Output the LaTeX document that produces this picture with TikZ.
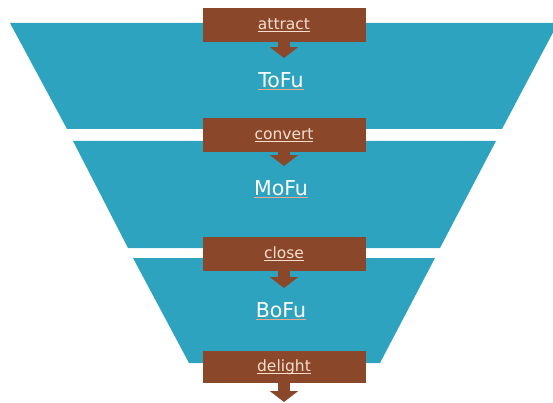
\documentclass[tikz,border=0pt]{standalone}
\usepackage{fontspec}
\setmainfont{DejaVu Sans}
\usetikzlibrary{arrows.meta}

\definecolor{funnel}{RGB}{45,163,192}
\definecolor{stage}{RGB}{139,71,42}
\definecolor{stagetext}{RGB}{250,222,205}
\definecolor{linkline}{RGB}{236,168,140}

\newsavebox\lnkbox
\newcommand\lnk[3][0.9pt]{\sbox\lnkbox{#3}\rlap{\color{#2}\rule[-2.6pt]{\wd\lnkbox}{#1}}\usebox\lnkbox}

\tikzset{
    band/.style={fill=funnel, draw=none},
    stagebox/.style={fill=stage, text=stagetext, minimum width=163pt, minimum height=34pt,
        inner sep=0pt, font=\fontsize{15.5}{15.5}\selectfont},
    level/.style={text=white, inner sep=2pt, font=\fontsize{20.5}{20.5}\selectfont},
    flow/.style={draw=stage, line width=12pt, -{Triangle[width=28pt,length=11pt]}},
}

\begin{document}
\begin{tikzpicture}[x=1pt, y=-1pt]
        \useasboundingbox (0,0) rectangle (553,403);
        \fill[band] (10,23) -- (558,23) -- (502,129) -- (67,129) -- cycle;
        \fill[band] (73,141) -- (496,141) -- (440,248) -- (128,248) -- cycle;
        \fill[band] (133,258) -- (435,258) -- (380,363) -- (189,363) -- cycle;
        \node[stagebox] (attract) at (284,25) {\lnk{stagetext}{attract}};
        \node[stagebox] (convert) at (284,135) {\lnk{stagetext}{convert}};
        \node[stagebox] (close) at (284,254) {\lnk{stagetext}{close}};
        \node[stagebox, minimum height=32pt] (delight) at (284,367) {\lnk{stagetext}{delight}};
        \node[level] (tofu) at (281,81) {\lnk[1.2pt]{linkline}{ToFu}};
        \node[level] (mofu) at (281,189) {\lnk[1.2pt]{linkline}{MoFu}};
        \node[level] (bofu) at (281,311) {\lnk[1.2pt]{linkline}{BoFu}};
        \coordinate (end) at (284,402);
        \draw[flow, shorten >=12pt] (attract.south) -- (tofu.north -| attract.south);
        \draw[flow, shorten >=12pt] (convert.south) -- (mofu.north -| convert.south);
        \draw[flow, shorten >=12pt] (close.south) -- (bofu.north -| close.south);
        \draw[flow] (delight.south) -- (end);
    \end{tikzpicture}
\end{document}
